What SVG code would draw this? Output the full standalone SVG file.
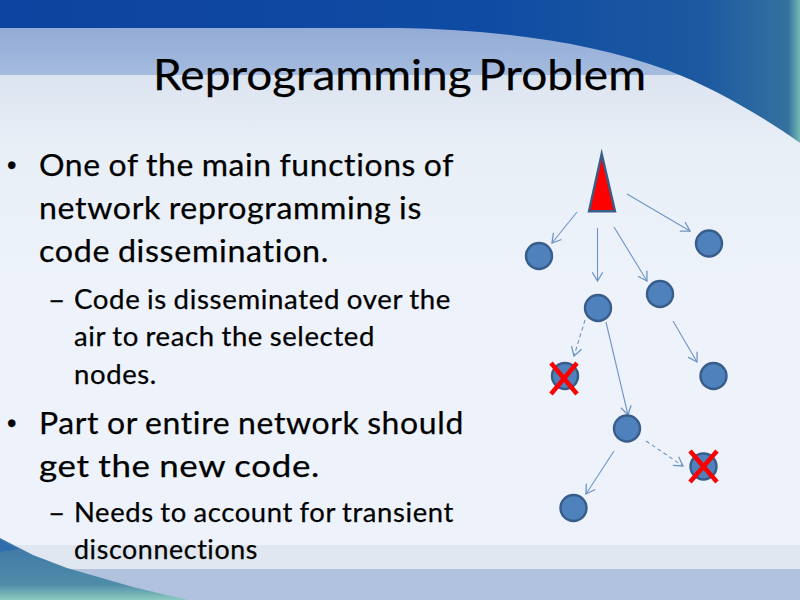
<svg xmlns="http://www.w3.org/2000/svg" width="800" height="600" viewBox="0 0 800 600">
<style>
text{font-family:"Lato","Liberation Sans",sans-serif;fill:#000;stroke:#000;stroke-width:0.25;font-variant-ligatures:none}
.t{font-size:43px;word-spacing:-5px}
.b{font-size:30px;word-spacing:-1px;letter-spacing:0.6px}
.s{font-size:26px;word-spacing:-1px;letter-spacing:0.6px}
.bu{font-family:"Liberation Sans",sans-serif;font-size:27px}
.n{fill:#4f81bd;stroke:#385d8a;stroke-width:2.4}
.c{fill:none;stroke:#6f94c4;stroke-width:1.1;marker-end:url(#a)}
.d{stroke-dasharray:4 3}
.x{stroke:#ff0000;stroke-width:4.5;fill:none}
</style>
<defs>
<marker id="a" markerUnits="userSpaceOnUse" markerWidth="14" markerHeight="14" refX="11" refY="6" orient="auto" viewBox="0 0 12 12"><path d="M3.500 1.500L11 6L3.500 10.500" fill="none" stroke="#6f94c4" stroke-width="1.1"/></marker>
<linearGradient id="bg" gradientUnits="userSpaceOnUse" x1="0" y1="75" x2="0" y2="600"><stop offset="0" stop-color="#dce4f0"/><stop offset="0.14" stop-color="#e9eff7"/><stop offset="0.4" stop-color="#eef3fb"/><stop offset="1" stop-color="#eef3fb"/></linearGradient>
<linearGradient id="top" gradientUnits="userSpaceOnUse" x1="0" y1="0" x2="800" y2="0"><stop offset="0" stop-color="#0d43a0"/><stop offset="0.6" stop-color="#0f4ba3"/><stop offset="0.88" stop-color="#1c59a0"/><stop offset="0.985" stop-color="#34719f"/><stop offset="1" stop-color="#74b8b4"/></linearGradient>
<linearGradient id="lb" x1="0" y1="0" x2="0" y2="1"><stop offset="0" stop-color="#93acd5"/><stop offset="1" stop-color="#a5bbdf"/></linearGradient>
<linearGradient id="bl" x1="0" y1="0" x2="0" y2="1"><stop offset="0" stop-color="#3d76a8"/><stop offset="0.75" stop-color="#4f8ca8"/><stop offset="1" stop-color="#8ccac0"/></linearGradient>
</defs>
<rect width="800" height="600" fill="url(#bg)"/>
<rect y="545" width="800" height="25" fill="#e0e7f1"/>
<rect y="569" width="800" height="31" fill="#b1c2df"/>
<path d="M0 538L33 555L67 568L133 587L188 600L0 600Z" fill="url(#bl)"/>
<path d="M0 540L18 549L0 552Z" fill="#2f6cad"/>
<rect y="28" width="800" height="47" fill="url(#lb)"/>
<path d="M0 0L800 0L800 143C765 118 715 88 667 70C590 42 500 30 400 28L0 28Z" fill="url(#top)"/>
<text id="title" class="t" x="153" y="90" textLength="493" lengthAdjust="spacingAndGlyphs">Reprogramming Problem</text>
<g id="body">
<text class="bu" x="7" y="174">•</text>
<text class="b" x="39" y="176" textLength="415" lengthAdjust="spacingAndGlyphs">One of the main functions of</text>
<text class="b" x="39" y="219" textLength="383" lengthAdjust="spacingAndGlyphs">network reprogramming is</text>
<text class="b" x="39" y="262" textLength="290" lengthAdjust="spacingAndGlyphs">code dissemination.</text>
<text class="s" x="48" y="308.500" textLength="18" lengthAdjust="spacingAndGlyphs">–</text>
<text class="s" x="74" y="308.500" textLength="377" lengthAdjust="spacingAndGlyphs">Code is disseminated over the</text>
<text class="s" x="74" y="345.500" textLength="301" lengthAdjust="spacingAndGlyphs">air to reach the selected</text>
<text class="s" x="74" y="383.500" textLength="83" lengthAdjust="spacingAndGlyphs">nodes.</text>
<text class="bu" x="7" y="432">•</text>
<text class="b" x="39" y="434" textLength="425" lengthAdjust="spacingAndGlyphs">Part or entire network should</text>
<text class="b" x="39" y="477" textLength="281" lengthAdjust="spacingAndGlyphs">get the new code.</text>
<text class="s" x="48" y="522" textLength="18" lengthAdjust="spacingAndGlyphs">–</text>
<text class="s" x="74" y="522" textLength="380" lengthAdjust="spacingAndGlyphs">Needs to account for transient</text>
<text class="s" x="74" y="559" textLength="184" lengthAdjust="spacingAndGlyphs">disconnections</text>
</g>
<g id="connectors">
<path class="c" d="M577 212L552 243"/>
<path class="c" d="M597.500 228L597.500 281"/>
<path class="c" d="M614 227L647 281"/>
<path class="c" d="M627 194L690 231"/>
<path class="c d" d="M585 320L574 356"/>
<path class="c" d="M606 322L628 415"/>
<path class="c" d="M673 321L697 362"/>
<path class="c d" d="M646 441L683 466"/>
<path class="c" d="M614 451L586 494"/>
</g>
<g id="root"><path d="M601.700 154L615 211.300L589 211.300Z" fill="#ff0000" stroke="#385d8a" stroke-width="2.400" stroke-miterlimit="10"/></g>
<g id="n1"><circle class="n" cx="539" cy="256" r="13"/></g>
<g id="n2"><circle class="n" cx="709" cy="243.500" r="13"/></g>
<g id="n3"><circle class="n" cx="660" cy="294" r="13"/></g>
<g id="n4"><circle class="n" cx="598" cy="308" r="13"/></g>
<g id="n5"><circle class="n" cx="565" cy="376" r="13"/><path class="x" d="M551 363L577 394M577 363L551 394"/></g>
<g id="n6"><circle class="n" cx="713.500" cy="376" r="13"/></g>
<g id="n7"><circle class="n" cx="627" cy="428.500" r="13"/></g>
<g id="n8"><circle class="n" cx="703.500" cy="466.500" r="13"/><path class="x" d="M690 451L717 482M717 451L690 482"/></g>
<g id="n9"><circle class="n" cx="573.500" cy="508" r="13"/></g>
</svg>
